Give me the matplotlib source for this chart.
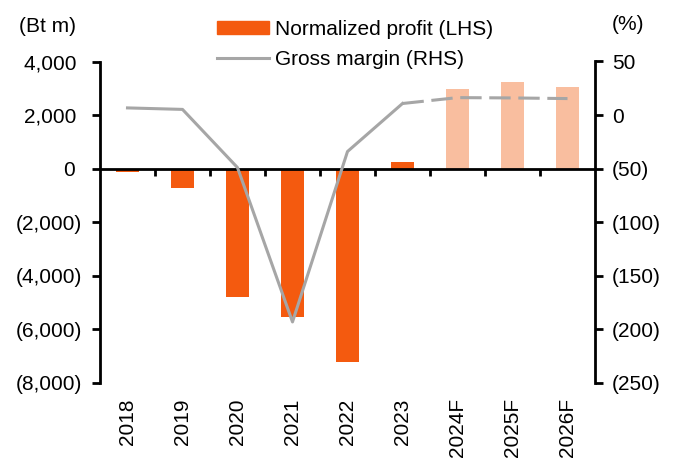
import matplotlib
matplotlib.use("Agg")
import matplotlib.pyplot as plt
from matplotlib.ticker import FuncFormatter, FixedLocator
from matplotlib.transforms import blended_transform_factory
from matplotlib.lines import Line2D
from matplotlib.patches import Patch

plt.rcParams['font.family'] = ['Liberation Sans', 'DejaVu Sans']
plt.rcParams['font.size'] = 15

years = ['2018', '2019', '2020', '2021', '2022', '2023', '2024F', '2025F', '2026F']
profit = [-120, -740, -4790, -5520, -7200, 250, 2960, 3240, 3060]
margin = [6.7, 5.3, -49, -193, -34, 10.8, 16.3, 16.0, 15.4]
n_actual = 6  # 2018-2023 actual, rest forecast

bar_col = '#F45A0F'
fc_col = '#F9BE9F'
line_col = '#A6A6A6'


def paren_fmt(v, pos):
    if v < 0:
        return f"({abs(v):,.0f})"
    return f"{v:,.0f} "


fig = plt.figure(figsize=(6.78, 4.62), dpi=100)
ax = fig.add_axes([100 / 678, 1 - 383 / 462, 495 / 678, 321.5 / 462])
ax2 = ax.twinx()

x = list(range(len(years)))
colors = [bar_col if i < n_actual else fc_col for i in x]
ax.bar(x, profit, width=0.41, color=colors, zorder=2)

ax.set_xlim(-0.5, len(years) - 0.5)
ax.set_ylim(-8000, 4000)
ax.yaxis.set_major_locator(FixedLocator(range(-8000, 4001, 2000)))
ax.yaxis.set_major_formatter(FuncFormatter(paren_fmt))
ax.tick_params(axis='y', direction='out', length=6, width=2, pad=7)

# category axis sits on the zero line
ax.spines['bottom'].set_position(('data', 0))
ax.spines['bottom'].set_linewidth(2)
ax.spines['bottom'].set_zorder(3)
ax.spines['left'].set_linewidth(2)
ax.spines['top'].set_visible(False)
ax.spines['right'].set_visible(False)
ax.set_xticks([i + 0.5 for i in x[:-1]])
ax.set_xticklabels([])
ax.tick_params(axis='x', direction='out', length=5, width=2)

trans = blended_transform_factory(ax.transData, ax.transAxes)
for i, lab in enumerate(years):
    ax.annotate(lab, xy=(i, 0), xycoords=trans, xytext=(0, -11),
                textcoords='offset points', rotation=90, ha='center', va='top')

# gross margin on right axis
ax2.plot(x[:n_actual], margin[:n_actual], color=line_col, lw=2.2)
ax2.plot(x[n_actual - 1:], margin[n_actual - 1:], color=line_col, lw=2.2,
         dashes=(7, 2.5))
ax2.set_ylim(-250, 50)
ax2.yaxis.set_major_locator(FixedLocator(range(-250, 51, 50)))
ax2.yaxis.set_major_formatter(FuncFormatter(lambda v, p: f"({abs(v):.0f})" if v < 0 else f"{v:.0f}"))
ax2.tick_params(axis='y', direction='out', length=6, width=2, pad=6)
ax2.spines['right'].set_linewidth(2)
for s in ['top', 'left', 'bottom']:
    ax2.spines[s].set_visible(False)

fig.text(47 / 678, 1 - 27 / 462, '(Bt m)', ha='center', va='center')
fig.text(628 / 678, 1 - 25 / 462, '(%)', ha='center', va='center')

handles = [Patch(color=bar_col, label='Normalized profit (LHS)'),
           Line2D([0], [0], color=line_col, lw=2.2, label='Gross margin (RHS)')]
fig.legend(handles=handles, loc='upper left', bbox_to_anchor=(217 / 678, 1 - 20 / 462),
           frameon=False, borderpad=0, borderaxespad=0, handlelength=2.5,
           handleheight=0.55, handletextpad=0.3, labelspacing=0.52)

fig.savefig('out.png', dpi=100)
